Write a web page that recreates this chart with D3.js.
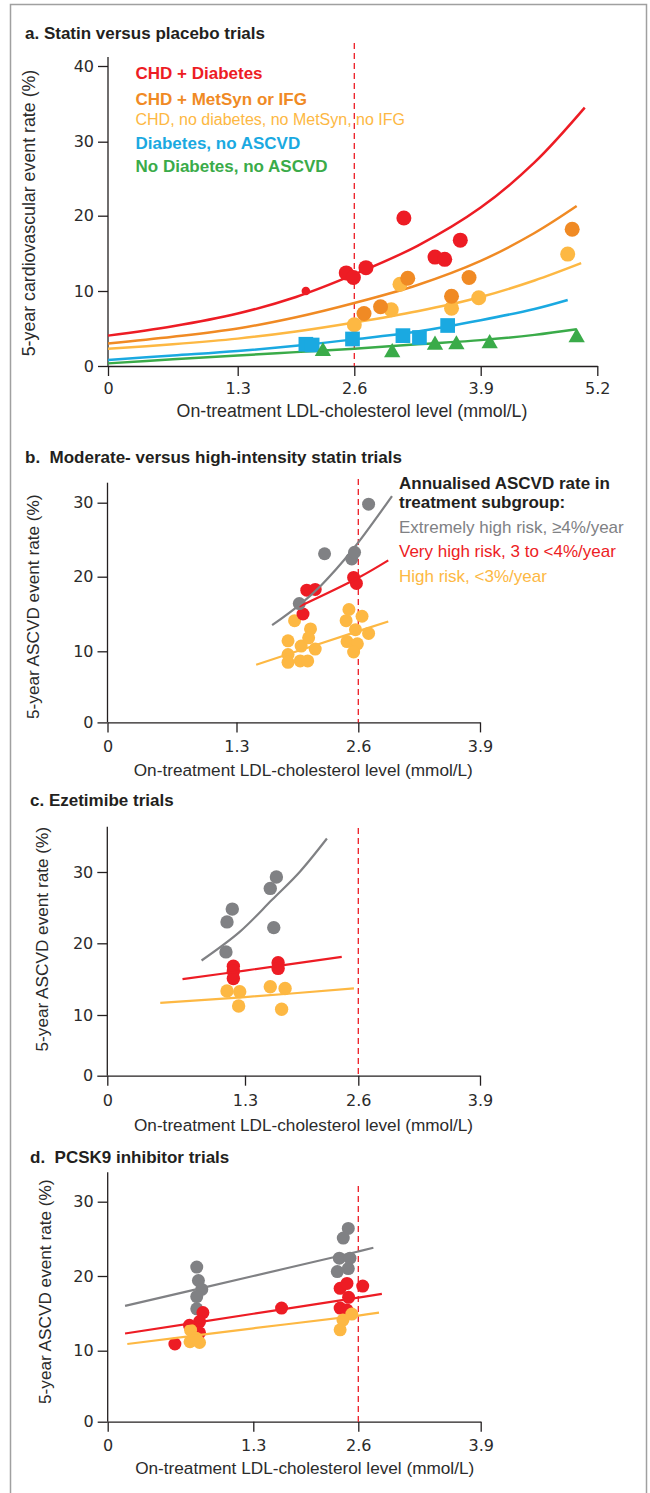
<!DOCTYPE html>
<html>
<head>
<meta charset="utf-8">
<script src="https://cdn.jsdelivr.net/npm/d3@7"></script>
<style>
  body { margin: 0; background: #fff; }
  svg text { font-family: "Liberation Sans", Arial, sans-serif; fill: #231f20; }
  .title { font-size: 17px; font-weight: bold; white-space: pre; }
  .axis text { font-family: "DejaVu Sans", sans-serif; font-size: 16px; fill: #2b2b2b; }
  .axis path, .axis line, .axis-line { stroke: #231f20; stroke-width: 1.3px; }
  .axis-title { font-size: 17.5px; fill: #2b2b2b; }
  .leg-bold { font-size: 17px; font-weight: bold; }
  .leg-reg { font-size: 17px; }
</style>
</head>
<body>
<div id="vis"></div>
<script>
// colours
const RED = '#ed1c24', ORANGE = '#f08a24', YELLOW = '#fdb843'
const BLUE = '#1aa9e1', GREEN = '#3aab49', GRAY = '#808184'

// ---------- a. statin versus placebo (x = LDL mmol/L, y = 5-yr event %) ----------
const aRed = [[2.51, 12.4], [2.59, 11.8], [2.72, 13.1], [3.11, 19.7], [3.43, 14.5], [3.53, 14.2], [3.69, 16.75]]
const aRedSmall = [[2.06, 10.0]]
const aOrange = [[2.70, 7.0], [2.87, 7.9], [3.15, 11.7], [3.60, 9.3], [3.78, 11.8], [4.92, 18.2]]
const aYellow = [[2.60, 5.5], [2.98, 7.5], [3.07, 10.9], [3.60, 7.7], [3.88, 9.1], [4.87, 14.9]]
const aBlue = [[2.06, 2.9], [2.13, 2.8], [2.58, 3.6], [3.10, 4.05], [3.27, 3.8], [3.56, 5.4]]
const aGreen = [[2.25, 1.95], [2.99, 1.8], [3.43, 2.8], [3.65, 2.85], [4.00, 3.0], [4.97, 3.8]]
// fitted curves at regular LDL steps
const aRedFit = [[0, 4.05], [0.65, 5.3], [1.3, 7.0], [1.95, 9.2], [2.6, 12.2], [3.25, 16.0], [3.9, 21.1], [4.5, 27.2], [5.06, 34.5]]
const aOrangeFit = [[0, 3.0], [0.65, 3.9], [1.3, 5.0], [1.95, 6.5], [2.6, 8.4], [3.25, 10.8], [3.9, 14.0], [4.5, 17.7], [4.97, 21.3]]
const aYellowFit = [[0, 2.3], [0.65, 2.9], [1.3, 3.65], [1.95, 4.6], [2.6, 5.8], [3.25, 7.3], [3.9, 9.2], [4.5, 11.4], [5.02, 13.7]]
const aBlueFit = [[0, 0.8], [0.65, 1.4], [1.3, 2.0], [1.95, 2.7], [2.6, 3.55], [3.25, 4.6], [3.9, 6.1], [4.5, 7.6], [4.87, 8.8]]
const aGreenFit = [[0, 0.35], [0.65, 0.9], [1.3, 1.4], [1.95, 1.85], [2.6, 2.3], [3.25, 2.9], [3.9, 3.45], [4.5, 4.15], [4.97, 4.9]]
const legendA = ['CHD + Diabetes', 'CHD + MetSyn or IFG', 'CHD, no diabetes, no MetSyn, no IFG', 'Diabetes, no ASCVD', 'No Diabetes, no ASCVD']
const legendAColors = [RED, ORANGE, YELLOW, BLUE, GREEN]

// ---------- b. moderate vs high intensity statin ----------
const bGray = [[1.97, 16.4], [2.24, 23.1], [2.53, 22.4], [2.56, 23.3], [2.71, 29.8]]
const bRed = [[2.01, 15.0], [2.05, 18.2], [2.14, 18.3], [2.55, 19.9], [2.58, 19.1]]
const bYellow = [[1.92, 14.1], [1.85, 11.4], [1.99, 10.7], [2.09, 13.0], [2.07, 11.8], [2.14, 10.3],
                 [1.85, 9.55], [1.85, 8.45], [1.98, 8.65], [2.06, 8.65], [2.50, 15.6], [2.64, 14.7],
                 [2.47, 14.1], [2.57, 12.9], [2.71, 12.4], [2.48, 11.3], [2.59, 11.0], [2.55, 9.9]]
const bGrayFit = [[1.68, 13.5], [1.98, 16.3], [2.2, 18.8], [2.53, 23.5], [2.96, 30.9]]
const bRedFit = [[1.97, 16.0], [2.6, 19.85], [2.92, 22.2]]
const bYellowFit = [[1.51, 8.1], [2.6, 12.7], [2.92, 14.0]]
const legendB = ['Extremely high risk, \u22654%/year', 'Very high risk, 3 to <4%/year', 'High risk, <3%/year']
const legendBHead = ['Annualised ASCVD rate in', 'treatment subgroup:']
const legendBColors = [GRAY, RED, YELLOW]

// ---------- c. ezetimibe ----------
const cGray = [[1.12, 18.8], [1.13, 23.0], [1.18, 24.8], [1.59, 27.7], [1.66, 29.3], [1.63, 22.2]]
const cRed = [[1.19, 16.8], [1.19, 16.1], [1.19, 15.1], [1.68, 17.3], [1.68, 16.5]]
const cYellow = [[1.13, 13.35], [1.25, 13.25], [1.24, 11.25], [1.59, 13.95], [1.76, 13.7], [1.72, 10.8]]
const cGrayFit = [[0.89, 17.6], [1.25, 21.6], [1.61, 26.1], [1.93, 30.05], [2.24, 34.7]]
const cRedFit = [[0.71, 15.0], [1.3, 16.2], [2.41, 18.1]]
const cYellowFit = [[0.5, 11.7], [1.3, 12.5], [2.55, 13.7]]

// ---------- d. PCSK9 inhibitor ----------
const dGray = [[0.795, 21.2], [0.81, 19.4], [0.84, 18.2], [0.795, 17.25], [0.795, 15.6],
               [2.476, 26.4], [2.414, 25.1], [2.365, 22.4], [2.497, 22.4], [2.476, 21.0], [2.34, 20.6]]
const dRed = [[0.60, 10.9], [0.73, 13.4], [0.85, 15.1], [0.82, 13.9], [0.82, 12.4], [1.65, 15.7],
              [2.375, 18.35], [2.46, 19.0], [2.647, 18.65], [2.48, 17.15], [2.375, 15.7], [2.46, 15.45]]
const dYellow = [[0.74, 12.75], [0.735, 11.2], [0.82, 11.1], [0.79, 11.65], [2.52, 14.9], [2.41, 14.1], [2.375, 12.8]]
const dGrayFit = [[0.155, 16.0], [1.3, 20.0], [2.6, 23.3], [2.76, 23.8]]
const dRedFit = [[0.155, 12.3], [1.3, 14.95], [2.6, 17.1], [2.85, 17.6]]
const dYellowFit = [[0.175, 10.9], [1.3, 13.0], [2.6, 14.7], [2.82, 15.1]]

// axis tick values
const xTicksA = [0, 1.3, 2.6, 3.9, 5.2]
const xTicksB = [0, 1.3, 2.6, 3.9]
const yTicksA = [0, 10, 20, 30, 40]
const yTicksB = [0, 10, 20, 30]
const xTitle = 'On-treatment LDL-cholesterol level (mmol/L)'

const W = 650, H = 1493
const svg = d3.select('#vis').append('svg').attr('width', W).attr('height', H)

// outer frame
svg.append('rect')
    .attr('x', 10.5).attr('y', 4.5).attr('width', 636).attr('height', H + 20)
    .attr('fill', 'none').attr('stroke', '#a0a0a0').attr('stroke-width', 1.5)

// builds axes for one panel; the drawn figure is slightly uneven so scales are piecewise
function drawPanel(p) {
    const x = d3.scaleLinear().domain(p.xTicks).range(p.xRange)
    const y = d3.scaleLinear().domain(p.yTicks).range(p.yRange)
    const g = svg.append('g')

    g.append('text').attr('class', 'title')
        .attr('x', p.titleX).attr('y', p.titleY).text(p.title)

    const xg = g.append('g').attr('class', 'axis')
        .attr('transform', `translate(0,${y(0)})`)
        .call(d3.axisBottom(x).tickValues(p.xTicks).tickSize(10).tickSizeOuter(0)
            .tickFormat(d => d === 0 ? '0' : d.toFixed(1)))
    xg.selectAll('.tick text').attr('y', p.xLabelDy).attr('dy', '0.35em')

    const yg = g.append('g').attr('class', 'axis')
        .attr('transform', `translate(${x(0)},0)`)
        .call(d3.axisLeft(y).tickValues(p.yTicks).tickSize(10).tickPadding(4))
    yg.select('.domain').remove()
    g.append('line').attr('class', 'axis-line')
        .attr('x1', x(0)).attr('x2', x(0)).attr('y1', p.yTop).attr('y2', y(0))

    // 2.6 mmol/L reference line
    g.append('line')
        .attr('x1', x(2.6)).attr('x2', x(2.6)).attr('y1', p.dashTop).attr('y2', y(0))
        .attr('stroke', RED).attr('stroke-width', 1.3).attr('stroke-dasharray', '6,4')

    g.append('text').attr('class', 'axis-title')
        .attr('x', p.xTitlePos[0]).attr('y', p.xTitlePos[1]).attr('dy', '0.35em')
        .attr('text-anchor', 'middle').style('font-size', p.titleSize + 'px').text(xTitle)
    g.append('text').attr('class', 'axis-title')
        .attr('transform', `translate(${p.yTitlePos[0]},${p.yTitlePos[1]}) rotate(-90)`)
        .attr('dy', '0.35em').attr('text-anchor', 'middle')
        .style('font-size', p.titleSize + 'px').text(p.yTitle)

    return { g, x, y }
}

function addLine(panel, data, color, width) {
    const line = d3.line().x(d => panel.x(d[0])).y(d => panel.y(d[1])).curve(d3.curveCatmullRom)
    panel.g.append('path').datum(data)
        .attr('d', line).attr('fill', 'none')
        .attr('stroke', color).attr('stroke-width', width).attr('stroke-linecap', 'butt')
}

function addDots(panel, data, color, r) {
    panel.g.append('g').selectAll('circle').data(data).join('circle')
        .attr('cx', d => panel.x(d[0])).attr('cy', d => panel.y(d[1]))
        .attr('r', r).attr('fill', color)
}

function addSymbols(panel, data, type, size, color) {
    panel.g.append('g').selectAll('path').data(data).join('path')
        .attr('transform', d => `translate(${panel.x(d[0])},${panel.y(d[1])})`)
        .attr('d', d3.symbol(type, size)).attr('fill', color)
}

// ---- panel a ----
const pA = drawPanel({
    title: 'a. Statin versus placebo trials', titleX: 25, titleY: 39.3,
    xTicks: xTicksA, xRange: [108, 237.7, 354.3, 480.7, 597.3],
    yTicks: yTicksA, yRange: [366, 291, 215.7, 141.7, 66],
    yTop: 57, dashTop: 43, xLabelDy: 22.5,
    xTitlePos: [352, 411], yTitlePos: [28.5, 213], titleSize: 17.8,
    yTitle: '5-year cardiovascular event rate (%)'
})
addLine(pA, aGreenFit, GREEN, 2.5)
addLine(pA, aBlueFit, BLUE, 2.5)
addLine(pA, aYellowFit, YELLOW, 2.5)
addLine(pA, aOrangeFit, ORANGE, 2.5)
addLine(pA, aRedFit, RED, 2.5)
addDots(pA, aYellow, YELLOW, 7.5)
addDots(pA, aOrange, ORANGE, 7.5)
addDots(pA, aRed, RED, 7.5)
addDots(pA, aRedSmall, RED, 4.3)
addSymbols(pA, aBlue, d3.symbolSquare, 216, BLUE)
addSymbols(pA, aGreen, d3.symbolTriangle, 115, GREEN)

const legABase = [79, 105, 125, 149, 172.3]
pA.g.append('g').selectAll('text').data(legendA).join('text')
    .attr('class', (d, i) => i === 2 ? 'leg-reg' : 'leg-bold')
    .style('font-size', (d, i) => i === 2 ? '16px' : null)
    .attr('x', 135.5).attr('y', (d, i) => legABase[i])
    .style('fill', (d, i) => legendAColors[i]).text(d => d)

// ---- panel b ----
const pB = drawPanel({
    title: 'b.  Moderate- versus high-intensity statin trials', titleX: 25, titleY: 462.7,
    xTicks: xTicksB, xRange: [107.5, 236.5, 358.3, 480],
    yTicks: yTicksB, yRange: [722.4, 651.3, 576.7, 502.7],
    yTop: 482.7, dashTop: 479, xLabelDy: 24.3,
    xTitlePos: [303.3, 770], yTitlePos: [32.5, 606.7], titleSize: 17.2,
    yTitle: '5-year ASCVD event rate (%)'
})
addDots(pB, bYellow, YELLOW, 6.5)
addDots(pB, bRed, RED, 6.5)
addDots(pB, bGray, GRAY, 6.5)
addLine(pB, bYellowFit, YELLOW, 2.2)
addLine(pB, bRedFit, RED, 2.2)
addLine(pB, bGrayFit, GRAY, 2.2)

const legBBase = [489.3, 508, 532.7, 556.7, 581.7]
pB.g.append('g').selectAll('text').data(legendBHead.concat(legendB)).join('text')
    .attr('class', (d, i) => i < 2 ? 'leg-bold' : 'leg-reg')
    .attr('x', 399).attr('y', (d, i) => legBBase[i])
    .style('fill', (d, i) => i < 2 ? '#231f20' : legendBColors[i - 2]).text(d => d)

// ---- panel c ----
const pC = drawPanel({
    title: 'c. Ezetimibe trials', titleX: 30, titleY: 806,
    xTicks: xTicksB, xRange: [107.3, 245, 358.3, 480],
    yTicks: yTicksB, yRange: [1075.7, 1015, 943.3, 872],
    yTop: 826.7, dashTop: 828, xLabelDy: 24.3,
    xTitlePos: [303.5, 1125], yTitlePos: [41.7, 939.2], titleSize: 17.2,
    yTitle: '5-year ASCVD event rate (%)'
})
addDots(pC, cYellow, YELLOW, 6.7)
addDots(pC, cRed, RED, 6.7)
addDots(pC, cGray, GRAY, 6.7)
addLine(pC, cYellowFit, YELLOW, 2.2)
addLine(pC, cRedFit, RED, 2.2)
addLine(pC, cGrayFit, GRAY, 2.2)

// ---- panel d ----
const pD = drawPanel({
    title: 'd.  PCSK9 inhibitor trials', titleX: 30, titleY: 1162.7,
    xTicks: xTicksB, xRange: [107.7, 253.3, 358.3, 480.7],
    yTicks: yTicksB, yRange: [1421.7, 1350.7, 1276, 1201.7],
    yTop: 1172.3, dashTop: 1186, xLabelDy: 23.3,
    xTitlePos: [304.7, 1468.3], yTitlePos: [45, 1291.7], titleSize: 17.2,
    yTitle: '5-year ASCVD event rate (%)'
})
addDots(pD, dGray, GRAY, 6.5)
addDots(pD, dRed, RED, 6.5)
addDots(pD, dYellow, YELLOW, 6.5)
addLine(pD, dYellowFit, YELLOW, 2.2)
addLine(pD, dRedFit, RED, 2.2)
addLine(pD, dGrayFit, GRAY, 2.2)
</script>
</body>
</html>
